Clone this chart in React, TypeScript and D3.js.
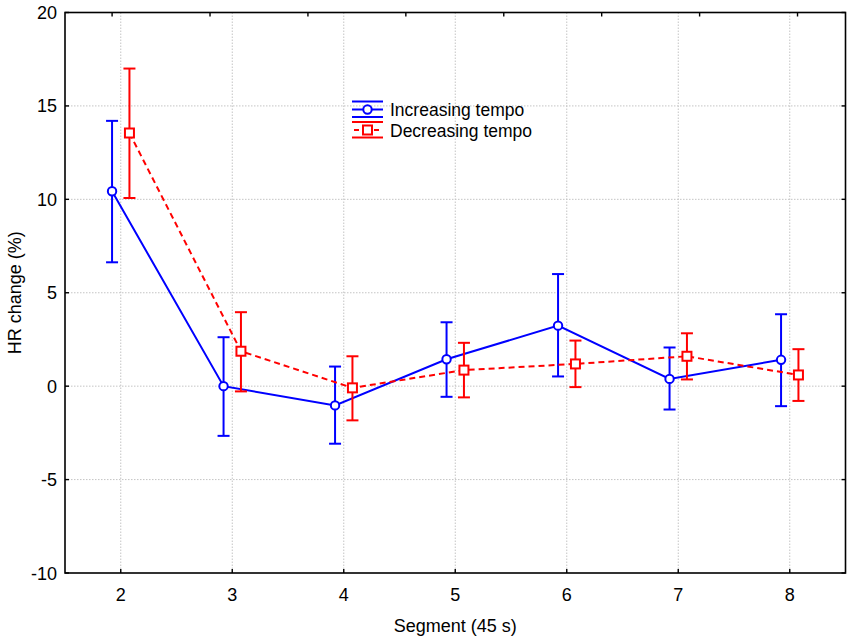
import React from "react"
import * as d3 from "d3"

// segments on the x axis
const segments = [2, 3, 4, 5, 6, 7, 8]

// increasing tempo: mean and error bar limits
const incMean = [10.43, 0.0, -1.03, 1.44, 3.24, 0.39, 1.41]
const incUpper = [14.2, 2.62, 1.05, 3.42, 6.0, 2.07, 3.85]
const incLower = [6.63, -2.66, -3.08, -0.57, 0.52, -1.25, -1.07]

// decreasing tempo
const decMean = [13.55, 1.87, -0.09, 0.86, 1.19, 1.6, 0.6]
const decUpper = [17.0, 3.96, 1.6, 2.32, 2.44, 2.83, 1.98]
const decLower = [10.07, -0.28, -1.83, -0.6, -0.05, 0.36, -0.79]

const yTicks = [-10, -5, 0, 5, 10, 15, 20]
// stray tick marks on the top frame
const topTicks = [1, 2, 3, 4, 5, 6, 7, 8]

const W = 850
const H = 639
const left = 65
const right = 845.5
const top = 12.5
const bottom = 573

const font = "'Liberation Sans', Arial, sans-serif"

export default function App() {
  const x = d3.scaleLinear().domain([1.5, 8.5]).range([left, right])
  const y = d3.scaleLinear().domain([-10, 20]).range([bottom, top])
  const xTop = d3.scaleLinear().domain([0.519, 8.49]).range([left, right])

  const offset = 0.078
  const cap = 6

  const series = [
    { name: "Increasing tempo", color: "#0000ff", mean: incMean, upper: incUpper, lower: incLower, dx: -offset, dash: undefined, shape: "circle" },
    { name: "Decreasing tempo", color: "#ff0000", mean: decMean, upper: decUpper, lower: decLower, dx: offset, dash: "6,4", shape: "square" },
  ]

  return (
    <svg width={W} height={H} style={{ position: "absolute", left: 0, top: 0, background: "#fff" }}>
      <rect x={0} y={0} width={W} height={H} fill="#fff" />

      {/* grid */}
      <g stroke="#c4c4c4" strokeWidth={1} strokeDasharray="1.5,1.5">
        {segments.map((s) => (
          <line key={"gx" + s} x1={x(s)} x2={x(s)} y1={top} y2={bottom} />
        ))}
        {yTicks.slice(1, -1).map((t) => (
          <line key={"gy" + t} x1={left} x2={right} y1={y(t)} y2={y(t)} />
        ))}
      </g>

      {/* series */}
      {series.map((s) => {
        const pts = s.mean.map((v, i) => ({ cx: x(segments[i] + s.dx), v, i }))
        const path = d3
          .line<number>()
          .x((_, i) => x(segments[i] + s.dx))
          .y((d) => y(d))(s.mean)
        return (
          <g key={s.name}>
            <path d={path ?? ""} fill="none" stroke={s.color} strokeWidth={2} strokeDasharray={s.dash} />
            {pts.map((p) => (
              <g key={p.i} stroke={s.color} strokeWidth={2}>
                <line x1={p.cx} x2={p.cx} y1={y(s.upper[p.i])} y2={y(s.lower[p.i])} />
                <line x1={p.cx - cap} x2={p.cx + cap} y1={y(s.upper[p.i])} y2={y(s.upper[p.i])} />
                <line x1={p.cx - cap} x2={p.cx + cap} y1={y(s.lower[p.i])} y2={y(s.lower[p.i])} />
              </g>
            ))}
            {pts.map((p) =>
              s.shape === "circle" ? (
                <circle key={"m" + p.i} cx={p.cx} cy={y(p.v)} r={4.2} fill="#fff" stroke={s.color} strokeWidth={2} />
              ) : (
                <rect key={"m" + p.i} x={p.cx - 4.5} y={y(p.v) - 4.5} width={9} height={9} fill="#fff" stroke={s.color} strokeWidth={2} />
              )
            )}
          </g>
        )
      })}

      {/* frame */}
      <rect x={left} y={top} width={right - left} height={bottom - top} fill="none" stroke="#000" strokeWidth={1.6} />

      {/* ticks */}
      <g stroke="#000" strokeWidth={1.4}>
        {segments.map((s) => (
          <line key={"tb" + s} x1={x(s)} x2={x(s)} y1={bottom} y2={bottom - 4} />
        ))}
        {topTicks.map((t) => (
          <line key={"tt" + t} x1={xTop(t)} x2={xTop(t)} y1={top} y2={top + 4} />
        ))}
        {yTicks.map((t) => (
          <g key={"ty" + t}>
            <line x1={left} x2={left + 4} y1={y(t)} y2={y(t)} />
            <line x1={right} x2={right - 4} y1={y(t)} y2={y(t)} />
          </g>
        ))}
      </g>

      {/* tick labels */}
      <g fontFamily={font} fontSize={18} fill="#000">
        {segments.map((s) => (
          <text key={"lx" + s} x={x(s)} y={bottom + 28} textAnchor="middle">
            {s}
          </text>
        ))}
        {yTicks.map((t) => (
          <text key={"ly" + t} x={left - 8} y={y(t) + 6.5} textAnchor="end">
            {t}
          </text>
        ))}
      </g>

      {/* axis titles */}
      <text x={(left + right) / 2} y={632} textAnchor="middle" fontFamily={font} fontSize={18}>
        Segment (45 s)
      </text>
      <text transform={`translate(21, ${(top + bottom) / 2}) rotate(-90)`} textAnchor="middle" fontFamily={font} fontSize={18}>
        HR change (%)
      </text>

      {/* legend */}
      {series.map((s, i) => {
        const ly = 109.5 + i * 20.5
        const x0 = 352
        const x1 = 383
        const mx = (x0 + x1) / 2
        return (
          <g key={"lg" + s.name}>
            <g stroke={s.color} strokeWidth={2}>
              <line x1={x0} x2={x1} y1={ly - 8} y2={ly - 8} />
              <line x1={x0} x2={x1} y1={ly + 7.5} y2={ly + 7.5} />
              <line x1={x0} x2={x1} y1={ly} y2={ly} strokeDasharray={s.dash ? "5,5" : undefined} strokeDashoffset={s.dash ? -2 : undefined} />
            </g>
            {s.shape === "circle" ? (
              <circle cx={mx} cy={ly} r={4.2} fill="#fff" stroke={s.color} strokeWidth={2} />
            ) : (
              <rect x={mx - 4.5} y={ly - 4.5} width={9} height={9} fill="#fff" stroke={s.color} strokeWidth={2} />
            )}
            <text x={390} y={ly + 6.5} fontFamily={font} fontSize={17.5} fill="#000">
              {s.name}
            </text>
          </g>
        )
      })}
    </svg>
  )
}
